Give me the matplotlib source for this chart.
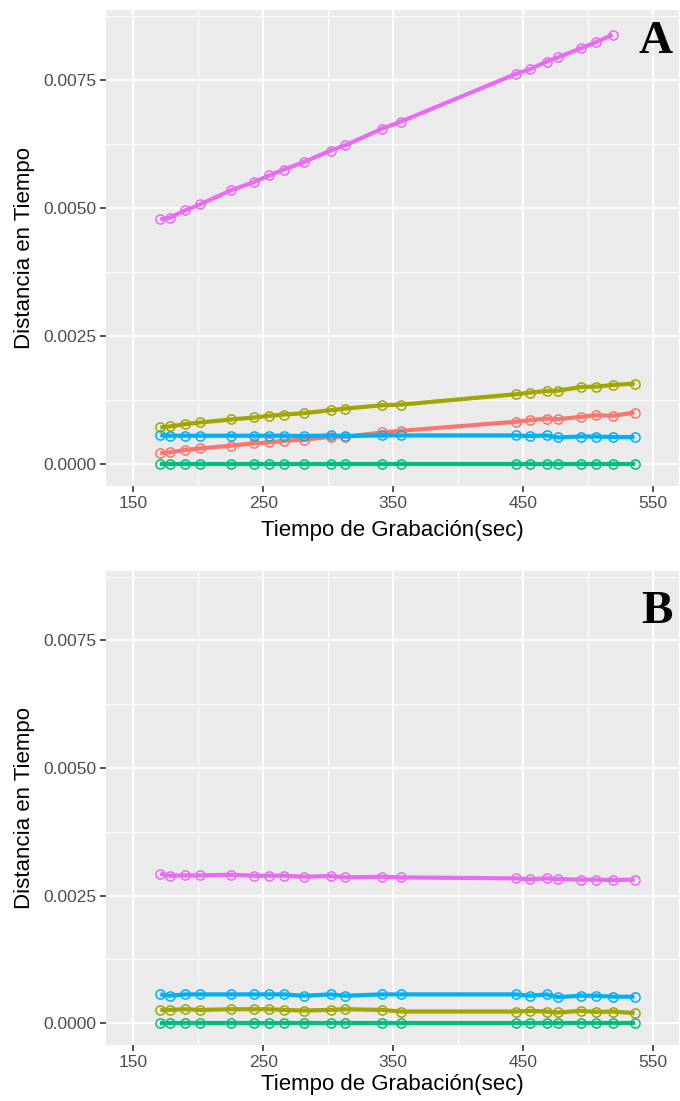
import matplotlib
matplotlib.use("Agg")
import matplotlib.pyplot as plt
from matplotlib.ticker import FixedLocator

# ---- data ----
tiempo = [170.8, 177.9, 189.9, 201.3, 225.0, 242.6, 254.6, 266.0, 281.1, 301.9,
          313.3, 341.6, 356.1, 444.2, 455.6, 468.1, 476.7, 494.9, 506.3, 518.9, 535.8]

# Panel A
a_rojo = [0.000214, 0.000227, 0.000272, 0.000304, 0.000356, 0.000402, 0.000421, 0.000453,
          0.000473, 0.000531, 0.000531, 0.000615, 0.000648, 0.000823, 0.000855, 0.000887,
          0.000874, 0.000920, 0.000952, 0.000939, 0.001004]
a_oliva = [0.000712, 0.000732, 0.000777, 0.000810, 0.000868, 0.000907, 0.000939, 0.000965,
           0.000991, 0.001049, 0.001082, 0.001146, 0.001159, 0.001360, 0.001393, 0.001425,
           0.001430, 0.001503, 0.001509, 0.001542, 0.001567]
a_verde = [0.0] * 21
a_azul = [0.000563, 0.000551, 0.000551, 0.000551, 0.000551, 0.000551, 0.000551, 0.000551,
          0.000545, 0.000557, 0.000545, 0.000557, 0.000557, 0.000557, 0.000545, 0.000557,
          0.000518, 0.000536, 0.000536, 0.000525, 0.000525]
a_rosa = [0.004773, 0.004805, 0.004948, 0.005065, 0.005338, 0.005500, 0.005630, 0.005747,
          0.005890, 0.006117, 0.006221, 0.006545, 0.006682, 0.007610, 0.007708, 0.007851,
          0.007935, 0.008117, 0.008234, 0.008377]  # last time point absent

# Panel B
b_oliva = [0.000258, 0.000258, 0.000271, 0.000258, 0.000271, 0.000271, 0.000271, 0.000258,
           0.000245, 0.000258, 0.000271, 0.000258, 0.000226, 0.000226, 0.000239, 0.000226,
           0.000207, 0.000239, 0.000220, 0.000226, 0.000194]
b_verde = [0.0] * 21
b_azul = [0.000562, 0.000536, 0.000562, 0.000562, 0.000562, 0.000562, 0.000562, 0.000562,
          0.000536, 0.000562, 0.000536, 0.000562, 0.000562, 0.000562, 0.000536, 0.000562,
          0.000510, 0.000536, 0.000536, 0.000517, 0.000517]
b_rosa = [0.002926, 0.002888, 0.002894, 0.002894, 0.002907, 0.002888, 0.002888, 0.002888,
          0.002868, 0.002881, 0.002855, 0.002868, 0.002855, 0.002836, 0.002817, 0.002836,
          0.002823, 0.002810, 0.002810, 0.002804, 0.002810]

x_ticks = [150, 250, 350, 450, 550]
y_ticks = [0.0, 0.0025, 0.0050, 0.0075]
y_tick_labels = ["0.0000", "0.0025", "0.0050", "0.0075"]

colores = {"rojo": "#F8766D", "oliva": "#A3A500", "verde": "#00BF7D",
           "azul": "#00B0F6", "rosa": "#E76BF3"}

W, H = 680, 1101
fig = plt.figure(figsize=(W / 100, H / 100), dpi=100)
fig.patch.set_facecolor("white")

FONT = ["Liberation Sans", "DejaVu Sans"]


def make_ax(top_px, bottom_px, xlabelpad):
    left_px, right_px = 106, 679
    ax = fig.add_axes([left_px / W, (H - bottom_px) / H,
                       (right_px - left_px) / W, (bottom_px - top_px) / H])
    ax.set_facecolor("#EBEBEB")
    for s in ax.spines.values():
        s.set_visible(False)
    ax.set_xlim(129, 570)
    ax.set_ylim(-0.00043, 0.00886)
    ax.xaxis.set_major_locator(FixedLocator(x_ticks))
    ax.xaxis.set_minor_locator(FixedLocator([200, 300, 400, 500]))
    ax.yaxis.set_major_locator(FixedLocator(y_ticks))
    ax.yaxis.set_minor_locator(FixedLocator([0.00125, 0.00375, 0.00625, 0.00875]))
    ax.set_yticklabels(y_tick_labels)
    ax.set_xticklabels([str(v) for v in x_ticks])
    ax.grid(which="major", color="white", linewidth=1.5)
    ax.grid(which="minor", color="white", linewidth=0.75)
    ax.set_axisbelow(True)
    ax.tick_params(which="major", length=4, width=1.2, color="#333333",
                   labelcolor="#4D4D4D", labelsize=12.5, pad=3)
    ax.tick_params(which="minor", length=0)
    for lab in ax.get_xticklabels() + ax.get_yticklabels():
        lab.set_family(FONT)
    ax.set_xlabel("Tiempo de Grabación(sec)", fontsize=16, family=FONT,
                  color="black", labelpad=xlabelpad)
    ax.set_ylabel("Distancia en Tiempo", fontsize=16, family=FONT,
                  color="black", labelpad=6)
    return ax


def serie(ax, x, y, c):
    ax.plot(x, y, color=c, linewidth=3.0, solid_capstyle="butt", zorder=3)
    ax.plot(x, y, linestyle="none", marker="o", markersize=6.6,
            markerfacecolor="none", markeredgecolor=c, markeredgewidth=1.1, zorder=3)


ax1 = make_ax(10, 486, 7)
serie(ax1, tiempo, a_rojo, colores["rojo"])
serie(ax1, tiempo, a_oliva, colores["oliva"])
serie(ax1, tiempo, a_verde, colores["verde"])
serie(ax1, tiempo, a_azul, colores["azul"])
serie(ax1, tiempo[:len(a_rosa)], a_rosa, colores["rosa"])

ax2 = make_ax(571, 1045, 3)
serie(ax2, tiempo, b_oliva, colores["oliva"])
serie(ax2, tiempo, b_verde, colores["verde"])
serie(ax2, tiempo, b_azul, colores["azul"])
serie(ax2, tiempo, b_rosa, colores["rosa"])

SERIF = ["Liberation Serif", "DejaVu Serif"]
fig.text(656 / W, 1 - 42 / H, "A", fontsize=34, fontweight="bold", family=SERIF,
         ha="center", va="center")
fig.text(657 / W, 1 - 612 / H, "B", fontsize=34, fontweight="bold", family=SERIF,
         ha="center", va="center")

fig.savefig("out.png", dpi=100)
